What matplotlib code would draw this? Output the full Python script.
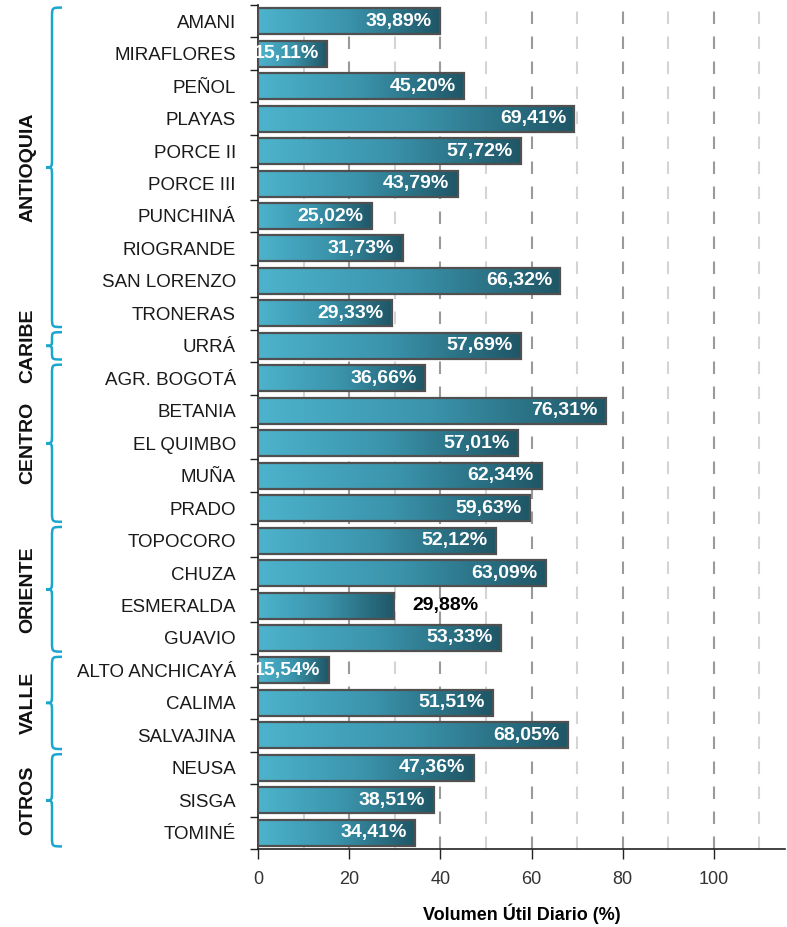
import numpy as np
import matplotlib
matplotlib.use("Agg")
import matplotlib.pyplot as plt
from matplotlib.colors import LinearSegmentedColormap
from matplotlib.path import Path
from matplotlib.patches import PathPatch
import matplotlib.transforms as mtransforms

categories = ["AMANI", "MIRAFLORES", "PEÑOL", "PLAYAS", "PORCE II", "PORCE III",
              "PUNCHINÁ", "RIOGRANDE", "SAN LORENZO", "TRONERAS", "URRÁ",
              "AGR. BOGOTÁ", "BETANIA", "EL QUIMBO", "MUÑA", "PRADO",
              "TOPOCORO", "CHUZA", "ESMERALDA", "GUAVIO",
              "ALTO ANCHICAYÁ", "CALIMA", "SALVAJINA",
              "NEUSA", "SISGA", "TOMINÉ"]
values = [39.89, 15.11, 45.20, 69.41, 57.72, 43.79, 25.02, 31.73, 66.32, 29.33,
          57.69, 36.66, 76.31, 57.01, 62.34, 59.63, 52.12, 63.09, 29.88, 53.33,
          15.54, 51.51, 68.05, 47.36, 38.51, 34.41]
groups = ["ANTIOQUIA", "CARIBE", "CENTRO", "ORIENTE", "VALLE", "OTROS"]
group_sizes = [10, 1, 5, 4, 3, 3]
outside_labels = ["ESMERALDA"]
x_ticks = [0, 20, 40, 60, 80, 100]
x_label = "Volumen Útil Diario (%)"

FONT = ["Liberation Sans Narrow", "Liberation Sans", "DejaVu Sans"]
plt.rcParams["font.family"] = FONT

W, H = 787, 927
fig = plt.figure(figsize=(W / 100, H / 100), dpi=100)
ax = fig.add_axes([258 / W, 1 - 849 / H, (785 - 258) / W, (849 - 5) / H])

n = len(categories)
ypos = np.arange(n)
bar_h = 0.8
bars = ax.barh(ypos, values, height=bar_h, facecolor="none",
               edgecolor="#505050", linewidth=1.6, zorder=4)

cmap = LinearSegmentedColormap.from_list("g", ["#4db3cc", "#3a93ab", "#1f5666"])
grad = np.linspace(0, 1, 256).reshape(1, -1)
for b, v, y in zip(bars, values, ypos):
    im = ax.imshow(grad, extent=[0, v, y + bar_h / 2, y - bar_h / 2],
                   cmap=cmap, aspect="auto", zorder=3, interpolation="bilinear")
    im.set_clip_path(b)

for cat, v, y in zip(categories, values, ypos):
    lab = f"{v:.2f}".replace(".", ",") + "%"
    if cat in outside_labels:
        ax.annotate(lab, (v, y), xytext=(13, 0), textcoords="offset points",
                    ha="left", va="center", color="black", fontsize=14,
                    fontweight="bold", zorder=5)
    else:
        ax.annotate(lab, (v, y), xytext=(-6, 0), textcoords="offset points",
                    ha="right", va="center", color="white", fontsize=14,
                    fontweight="bold", zorder=5)

ax.set_xlim(0, 115.6)
ax.set_ylim(n - 0.5, -0.5)

ax.set_yticks(ypos)
ax.set_yticklabels(categories, fontsize=13.5, color="#1a1a1a")
ax.set_yticks(np.arange(-0.5, n, 1), minor=True)
ax.tick_params(axis="y", which="major", length=0, pad=16)
ax.tick_params(axis="y", which="minor", length=6, width=1, color="#222222", direction="out")

ax.set_xticks(x_ticks)
ax.set_xticklabels([str(t) for t in x_ticks], fontsize=13, color="#333333")
ax.set_xticks(np.arange(10, 120, 20), minor=True)
ax.tick_params(axis="x", which="major", length=7, width=1, color="#222222", pad=9)
ax.tick_params(axis="x", which="minor", length=0)

for t in np.arange(20, 120, 20):
    ax.axvline(t, color="#9a9a9a", linestyle=(0, (6, 6)), linewidth=1.5, zorder=1)
for t in np.arange(10, 120, 20):
    ax.axvline(t, color="#d4d4d4", linestyle=(0, (6, 6)), linewidth=1.5, zorder=1)

for s in ["top", "right"]:
    ax.spines[s].set_visible(False)
ax.spines["left"].set_color("#222222")
ax.spines["bottom"].set_color("#222222")
ax.spines["left"].set_linewidth(1.2)
ax.spines["bottom"].set_linewidth(1.2)

ax.set_xlabel(x_label, fontsize=13, fontweight="bold", labelpad=11)

# group braces
trans = mtransforms.blended_transform_factory(fig.transFigure, ax.transData)
x_line, x_tip, x_end = 52 / W, 46 / W, 62 / W
start = -0.5
for g, sz in zip(groups, group_sizes):
    top = start + 0.08
    bot = start + sz - 0.08
    mid = (top + bot) / 2
    r = min(0.3, (bot - top) / 4)
    verts = [(x_end, top),
             (x_line, top), (x_line, top), (x_line, top + r),
             (x_line, mid - r),
             (x_line, mid), (x_line, mid), (x_tip, mid),
             (x_line, mid), (x_line, mid), (x_line, mid + r),
             (x_line, bot - r),
             (x_line, bot), (x_line, bot), (x_end, bot)]
    codes = [Path.MOVETO,
             Path.CURVE4, Path.CURVE4, Path.CURVE4,
             Path.LINETO,
             Path.CURVE4, Path.CURVE4, Path.CURVE4,
             Path.CURVE4, Path.CURVE4, Path.CURVE4,
             Path.LINETO,
             Path.CURVE4, Path.CURVE4, Path.CURVE4]
    p = PathPatch(Path(verts, codes), transform=trans, facecolor="none",
                  edgecolor="#1ba6cf", linewidth=1.8, clip_on=False)
    fig.patches.append(p)
    fig.text(28 / W, (start + start + sz) / 2, g, transform=trans, rotation=90,
             ha="center", va="center", fontsize=14, fontweight="bold",
             color="#111111")
    start += sz

fig.savefig("out.png", dpi=100)
